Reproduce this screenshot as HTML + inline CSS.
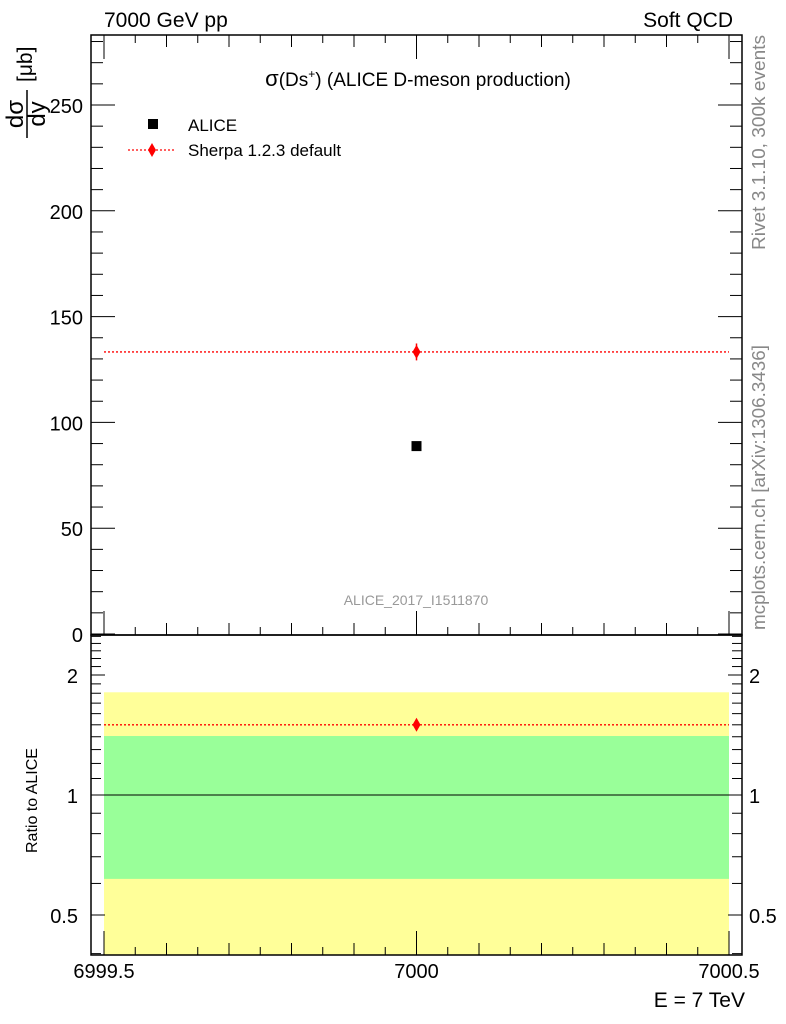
<!DOCTYPE html>
<html><head><meta charset="utf-8"><style>
body{margin:0;background:#fff;}
svg{display:block;font-family:"Liberation Sans",sans-serif;}
</style></head><body>
<svg id="c" width="786" height="1024" viewBox="0 0 786 1024" xmlns="http://www.w3.org/2000/svg"></svg>
<script>
const categories=[7000];
const aliceValues=[88.8];
const sherpaValues=[133.3];
const sherpaErr=[4];
const ratioValues=[1.50];
const bandYellow=[0.61,1.81];
const bandGreen=[0.616,1.406];
const yTicks=[0,50,100,150,200,250];
const xTicks=[6999.5,7000,7000.5];
const ratioTicks=[0.5,1,2];

const L=91,R=742,T=35,MB=635,RB=955;
const X0=104,X1=729;
const sx=v=>X0+(v-6999.5)*(X1-X0);
const sy=v=>634-v*2.116;
const sr=v=>795-Math.log2(v)*120;
const svg=document.getElementById('c');
const NS='http://www.w3.org/2000/svg';
function el(tag,attrs,name,txt){const e=document.createElementNS(NS,tag);for(const k in attrs)e.setAttribute(k,attrs[k]);


if(txt!==undefined)e.textContent=txt;svg.appendChild(e);return e;}
function ln(x1,y1,x2,y2,name,s,w,d){const a={x1,y1,x2,y2,stroke:s||'#000','stroke-width':w||1};if(d)a['stroke-dasharray']=d;return el('line',a,name);}

el('rect',{x:sx(6999.5),y:sr(bandYellow[1]),width:X1-X0,height:RB-sr(bandYellow[1]),fill:'#ffff99'},'ratio-yellow-band');
el('rect',{x:sx(6999.5),y:sr(bandGreen[1]),width:X1-X0,height:sr(bandGreen[0])-sr(bandGreen[1]),fill:'#99ff99'},'ratio-green-band');
ln(L,sr(1),R,sr(1),'ratio-unity-line');

el('rect',{x:L,y:T,width:R-L,height:MB-T,fill:'none',stroke:'#000','stroke-width':1.5},'main-frame');
el('rect',{x:L,y:MB,width:R-L,height:RB-MB,fill:'none',stroke:'#000','stroke-width':1.5},'ratio-frame');

for(let v=0;v<=280;v+=10){const y=sy(v);if(y<T)continue;const maj=v%50==0;const len=maj?24:12;
ln(L,y,L+len,y,'y-tick');ln(R,y,R-len,y,'y-tick');}
yTicks.forEach(v=>el('text',{x:83,y:sy(v)+8,'text-anchor':'end','font-size':20},'y-tick-label',String(v)));

for(let i=0;i<=20;i++){const v=6999.5+i*0.05;const x=sx(v);const maj=(i%10==0);const len=maj?24:(i%2==0?12:8);
[MB,RB].forEach(b=>ln(x,b,x,b-len,'x-tick'));ln(x,T,x,T+len,'x-tick');}
xTicks.forEach(v=>el('text',{x:sx(v),y:978,'text-anchor':'middle','font-size':20},'x-tick-label',String(v)));

[0.4,0.5,0.6,0.7,0.8,0.9,1,1.1,1.2,1.3,1.4,1.5,1.6,1.7,1.8,1.9,2,2.1,2.2,2.3,2.4,2.5].forEach(v=>{const y=sr(v);if(y<MB||y>RB)return;
const maj=ratioTicks.includes(v);const len=maj?14:10;ln(L,y,L+len,y,'ratio-tick');ln(R,y,R-len,y,'ratio-tick');});
ratioTicks.forEach(v=>{el('text',{x:78,y:sr(v)+8,'text-anchor':'end','font-size':20},'ratio-tick-label',String(v));
el('text',{x:749,y:sr(v)+8,'font-size':20},'ratio-tick-label-right',String(v));});

el('line',{x1:X0,y1:sy(sherpaValues[0]),x2:X1,y2:sy(sherpaValues[0]),stroke:'#f00','stroke-width':1.3,'stroke-dasharray':'2,2'},'sherpa-line');
categories.forEach((c,i)=>{const x=sx(c);
el('rect',{x:x-5,y:sy(aliceValues[i])-5,width:10,height:10,fill:'#000'},'alice-point');
ln(x,sy(sherpaValues[i]+sherpaErr[i]),x,sy(sherpaValues[i]-sherpaErr[i]),'sherpa-errorbar','#f00',1.5);
const y=sy(sherpaValues[i]);el('polygon',{points:`${x},${y-7} ${x+4},${y} ${x},${y+7} ${x-4},${y}`,fill:'#f00'},'sherpa-point');
const ry=sr(ratioValues[i]);
el('line',{x1:X0,y1:ry,x2:X1,y2:ry,stroke:'#f00','stroke-width':1.3,'stroke-dasharray':'2,2'},'ratio-sherpa-line');
el('polygon',{points:`${x},${ry-7} ${x+4},${ry} ${x},${ry+7} ${x-4},${ry}`,fill:'#f00'},'ratio-sherpa-point');});

el('text',{x:104,y:27,'font-size':21},'energy-label','7000 GeV pp');
el('text',{x:733,y:27,'font-size':21,'text-anchor':'end'},'process-label','Soft QCD');
const t=el('text',{x:418,y:86,'font-size':19,'text-anchor':'middle'},'plot-title');
t.innerHTML='<tspan font-size="22">σ</tspan>(Ds<tspan dy="-8" font-size="12">+</tspan><tspan dy="8">) (ALICE D-meson production)</tspan>';
el('rect',{x:148,y:119,width:10,height:10,fill:'#000'},'legend-alice-marker');
el('text',{x:188,y:131,'font-size':17},'legend-alice-label','ALICE');
el('line',{x1:128,y1:150,x2:176,y2:150,stroke:'#f00','stroke-width':1.3,'stroke-dasharray':'2,2'},'legend-sherpa-line');
el('polygon',{points:'152,143 156,150 152,157 148,150',fill:'#f00'},'legend-sherpa-marker');
el('text',{x:188,y:156,'font-size':17},'legend-sherpa-label','Sherpa 1.2.3 default');
el('text',{x:416,y:605,'font-size':14,fill:'#999','text-anchor':'middle'},'analysis-id','ALICE_2017_I1511870');
el('text',{x:0,y:0,'font-size':18,fill:'#888',transform:'translate(765,250) rotate(-90)',textLength:215,lengthAdjust:'spacingAndGlyphs'},'rivet-label','Rivet 3.1.10,  300k events');
el('text',{x:0,y:0,'font-size':18,fill:'#888',transform:'translate(765,630) rotate(-90)',textLength:285,lengthAdjust:'spacingAndGlyphs'},'mcplots-label','mcplots.cern.ch [arXiv:1306.3436]');
el('text',{x:0,y:0,'font-size':16,transform:'translate(37,853) rotate(-90)'},'ratio-y-title','Ratio to ALICE');
el('text',{x:745,y:1007,'font-size':21,'text-anchor':'end'},'x-axis-title','E = 7 TeV');
el('text',{x:0,y:0,'font-size':24,transform:'translate(23,114) rotate(-90)','text-anchor':'middle'},'y-title-dsigma','dσ');
el('line',{x1:27,y1:90,x2:27,y2:138,stroke:'#000','stroke-width':1.5},'y-title-fraction-bar');
el('text',{x:0,y:0,'font-size':24,transform:'translate(45,114) rotate(-90)','text-anchor':'middle'},'y-title-dy','dy');
el('text',{x:0,y:0,'font-size':21,transform:'translate(32,82) rotate(-90)'},'y-title-unit','[μb]');
</script>
</body></html>
